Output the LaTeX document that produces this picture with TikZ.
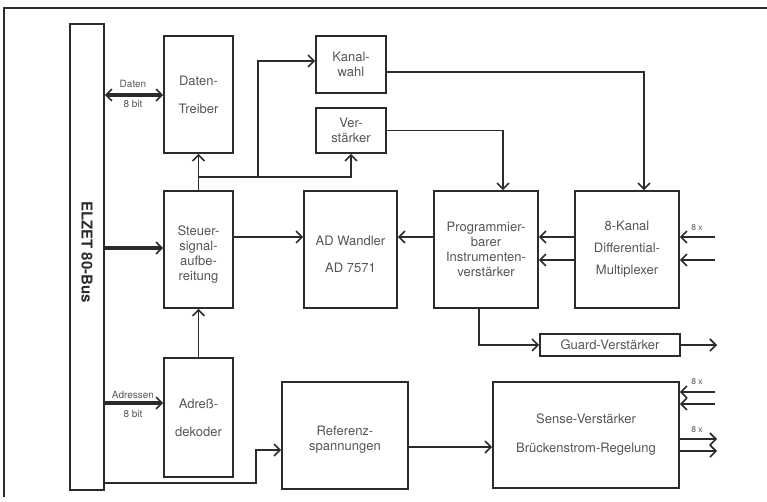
\documentclass[tikz,border=0pt]{standalone}
\usepackage{fontspec}
\setmainfont{TeX Gyre Heros}
\usetikzlibrary{arrows.meta,calc}
\definecolor{ink}{HTML}{2B2B2B}
\definecolor{txtc}{HTML}{555555}
\begin{document}
\begin{tikzpicture}[x=1pt,y=-1pt,
  box/.style={draw=ink,line width=1.6pt,inner sep=0pt,text=txtc,align=center,
    font=\fontsize{13}{15}\selectfont},
  txt/.style={text=txtc,align=center,font=\fontsize{13}{15}\selectfont,inner sep=0pt},
  small/.style={text=txtc,font=\fontsize{10}{11}\selectfont,inner sep=0pt},
  tiny/.style={text=txtc,font=\fontsize{8.5}{9}\selectfont,inner sep=0pt},
  barb/.tip={Straight Barb[length=6pt,width=12pt,line width=1.6pt]},
  tip/.style={-barb},
  conn/.style={draw=ink,line width=1.4pt,tip},
  thick bus/.style={draw=ink,line width=3.6pt,tip},
  frame/.style={draw=ink,line width=1.8pt}]
\useasboundingbox (0,0) rectangle (767,502);
% frame
\draw[frame] (4,497) -- (4,8) -- (767,8);
% bus
\node[box,minimum width=34,minimum height=466] (bus) at (87,257) {};
\node[rotate=-90,text=ink,font=\fontsize{15}{17}\selectfont\bfseries] (buslabel) at (87,252) {ELZET 80-Bus};
% boxes
\node[box,minimum width=69,minimum height=117] (daten) at (198.5,94.5) {Daten-\\[13pt]Treiber};
\node[box,minimum width=70,minimum height=57] (kanal) at (351,64.5) {Kanal-\\wahl};
\node[box,minimum width=70,minimum height=45] (verst) at (351,130.5) {Ver-\\stärker};
\node[box,minimum width=69,minimum height=117] (steuer) at (198.5,249.5) {};
\node[txt] (steuertxt) at ([yshift=-5pt]steuer.center) {Steuer-\\signal-\\aufbe-\\reitung};
\node[box,minimum width=93,minimum height=117] (adw) at (350.5,249.5) {};
\node[txt] (adwtxt) at ([yshift=-5pt]adw.center) {AD Wandler\\[12pt]AD 7571};
\node[box,minimum width=104,minimum height=117] (prog) at (486,249.5) {Programmier-\\barer\\Instrumenten-\\verstärker};
\node[box,minimum width=104,minimum height=117] (mux) at (627,249.5) {8-Kanal\\[7pt]Differential-\\[7pt]Multiplexer};
\node[box,minimum width=140,minimum height=22] (guard) at (610,345) {Guard-Verstärker};
\node[box,minimum width=69,minimum height=119] (adr) at (198.5,417.5) {Adreß-\\[13pt]dekoder};
\node[box,minimum width=126,minimum height=107] (ref) at (345,435.5) {};
\node[txt] (reftxt) at ([yshift=-4pt]ref.center) {Referenz-\\spannungen};
\node[box,minimum width=186,minimum height=106] (sense) at (586,435) {Sense-Verstärker\\[14pt]Brückenstrom-Regelung};
% helper coordinates
\coordinate (yD) at (0,95);
\coordinate (yS) at (0,248);
\coordinate (yA) at (0,403);
\coordinate (y237) at (0,237);
\coordinate (y260) at (0,260);
\coordinate (j1) at (198.5,177);
\coordinate (j2) at (258,177);
\coordinate (yK) at (0,61);
\coordinate (kout) at (0,72);
\coordinate (xK) at (644,0);
\coordinate (xV) at (503,0);
\coordinate (xP) at (479,0);
\coordinate (yG) at (0,345);
\coordinate (yB) at (0,483);
\coordinate (bend) at (256,450);
\coordinate (yR) at (0,447);
\coordinate (in1) at (715,237);
\coordinate (in2) at (715,260);
\coordinate (sin1) at (715,392);
\coordinate (sin2) at (715,404);
\coordinate (sout1) at (717,439);
\coordinate (sout2) at (717,451);
\coordinate (gout) at (717,345);
% bus connections
\draw[thick bus,barb-barb] (bus.east |- yD) -- (daten.west |- yD);
\draw[thick bus] (bus.east |- yS) -- (steuer.west |- yS);
\draw[thick bus] (bus.east |- yA) -- (adr.west |- yA);
\node[small] (l1) at (133,84) {Daten};
\node[small] (l2) at (133,104) {8 bit};
\node[small] (l3) at (133,395) {Adressen};
\node[small] (l4) at (133,414) {8 bit};
% control distribution
\draw[conn] (steuer.north) -- (daten.south);
\draw[conn] (j1) -| (verst.south);
\draw[conn] (j2) |- (kanal.west |- yK);
\draw[conn] (kanal.east |- kout) -| (mux.north -| xK);
\draw[conn] (verst.east) -| (prog.north -| xV);
\draw[conn] (adr.north) -- (steuer.south);
% signal path
\draw[conn] (steuer.east |- y237) -- (adw.west |- y237);
\draw[conn] (prog.west |- y237) -- (adw.east |- y237);
\draw[conn] (mux.west |- y237) -- (prog.east |- y237);
\draw[conn] (mux.west |- y260) -- (prog.east |- y260);
\draw[conn] (in1) -- (mux.east |- in1);
\draw[conn] (in2) -- (mux.east |- in2);
\node[tiny] (l5) at (697,228) {8 x};
\draw[conn] (prog.south -| xP) |- (guard.west |- yG);
\draw[conn] (guard.east) -- (gout);
% reference / sense
\draw[conn] (bus.east |- yB) -| (bend) -- (ref.west |- bend);
\draw[conn] (ref.east |- yR) -- (sense.west |- yR);
\draw[conn] (sin1) -- (sense.east |- sin1);
\draw[conn] (sin2) -- (sense.east |- sin2);
\node[tiny] (l6) at (697,382) {8 x};
\draw[conn] (sense.east |- sout1) -- (sout1);
\draw[conn] (sense.east |- sout2) -- (sout2);
\node[tiny] (l7) at (697,430) {8 x};
\end{tikzpicture}
\end{document}
